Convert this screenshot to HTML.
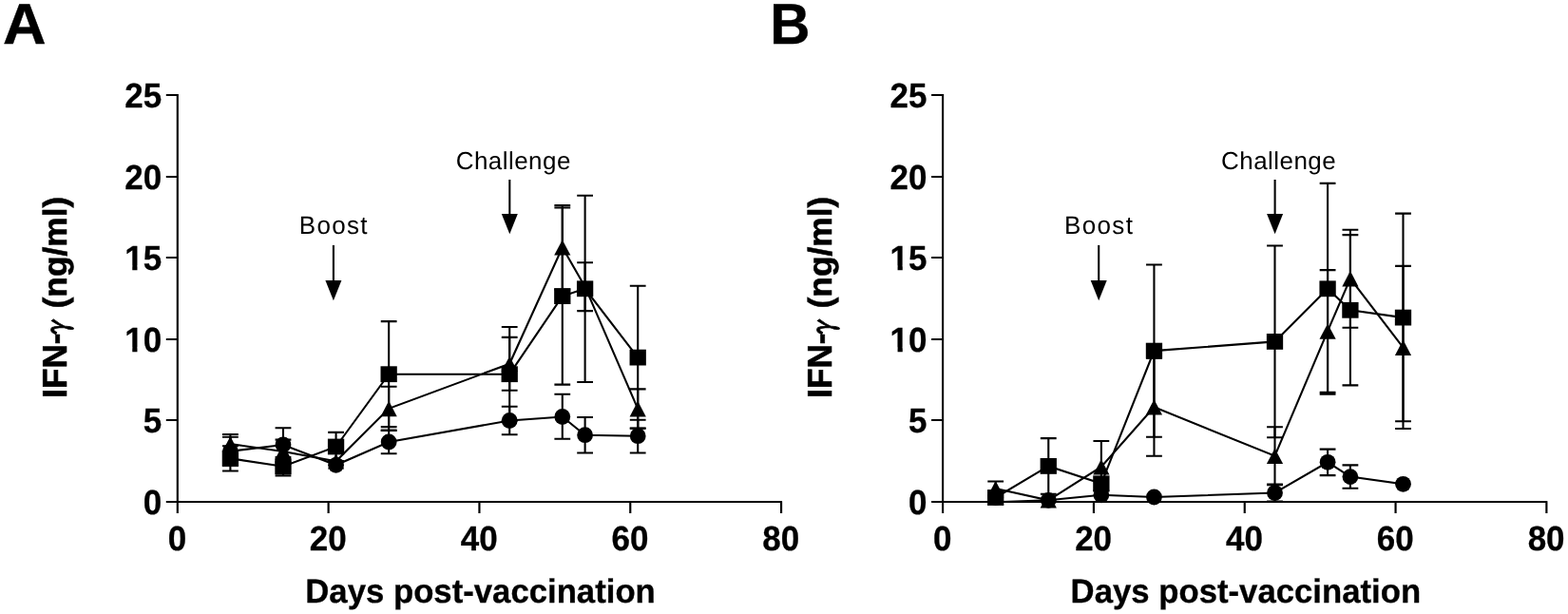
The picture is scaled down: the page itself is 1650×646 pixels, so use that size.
<!DOCTYPE html>
<html lang="en">
<head>
<meta charset="utf-8">
<title>IFN-γ responses post-vaccination</title>
<style>
html,body{margin:0;padding:0;background:#fff;}
body{width:1650px;height:646px;overflow:hidden;}
svg{display:block;}
text{font-family:"Liberation Sans",sans-serif;fill:#000;text-rendering:geometricPrecision;}
.pl{font-size:58.5px;font-weight:bold;stroke:#000;stroke-width:0.4px;}
.tk{font-size:35.5px;font-weight:bold;stroke:#000;stroke-width:0.3px;}
.xt{font-size:34.6px;font-weight:bold;stroke:#000;stroke-width:0.3px;}
.yt{font-size:34.5px;font-weight:bold;stroke:#000;stroke-width:0.6px;}
.gm{font-family:"IPAGothic","Liberation Serif",serif;font-weight:normal;font-size:34px;stroke:#000;stroke-width:0.9px;}
.an{font-size:26px;}
.ln{fill:none;stroke:#000;stroke-width:2.1;}
.ax{fill:none;stroke:#000;stroke-width:2.15;}
</style>
</head>
<body>
<svg width="1650" height="646" viewBox="0 0 1650 646">
<rect x="0" y="0" width="1650" height="646" fill="#fff"/>
<g>
<text class="pl" transform="translate(3.1 46.45) scale(1.078 1.035)">A</text>
<path class="ax" d="M186.8 99V540M174.8 528H823.08M174.8 442H186.8M174.8 357H186.8M174.8 271H186.8M174.8 186H186.8M174.8 100H186.8M345.62 528V540M504.44 528V540M663.26 528V540M822.08 528V540"/>
<text class="tk" transform="translate(170.2 540.9) scale(0.985 1.026)" text-anchor="end">0</text>
<text class="tk" transform="translate(170.2 454.9) scale(0.985 1.026)" text-anchor="end">5</text>
<text class="tk" transform="translate(170.2 369.9) scale(0.985 1.026)" text-anchor="end">10</text>
<rect fill="#fff" x="132.71" y="365.58" width="6.56" height="5.72"/>
<rect fill="#fff" x="144.46" y="365.58" width="6.11" height="5.72"/>
<text class="tk" transform="translate(170.2 283.9) scale(0.985 1.026)" text-anchor="end">15</text>
<rect fill="#fff" x="132.71" y="279.58" width="6.56" height="5.72"/>
<rect fill="#fff" x="144.46" y="279.58" width="6.11" height="5.72"/>
<text class="tk" transform="translate(170.2 198.9) scale(0.985 1.026)" text-anchor="end">20</text>
<text class="tk" transform="translate(170.2 112.9) scale(0.985 1.026)" text-anchor="end">25</text>
<text class="tk" transform="translate(186.5 578.8) scale(0.985 1.026)" text-anchor="middle">0</text>
<text class="tk" transform="translate(345.32 578.8) scale(0.985 1.026)" text-anchor="middle">20</text>
<text class="tk" transform="translate(504.14 578.8) scale(0.985 1.026)" text-anchor="middle">40</text>
<text class="tk" transform="translate(662.96 578.8) scale(0.985 1.026)" text-anchor="middle">60</text>
<text class="tk" transform="translate(821.78 578.8) scale(0.985 1.026)" text-anchor="middle">80</text>
<text class="yt" transform="translate(69.9 418.8) rotate(-90) scale(1.018 1.045)">IFN-</text>
<text class="gm" transform="translate(74.4 356.9) rotate(-90) scale(0.78 1.1)">γ</text>
<text class="yt" transform="translate(69.9 324.4) rotate(-90) scale(1.024 1.01)">(ng/ml)</text>
<text class="xt" transform="translate(321.3 634) scale(1.004 1.02)">Days post-vaccination</text>
<text class="an" transform="translate(314.7 245.8) scale(1 1.015)" style="letter-spacing:1.35px">Boost</text>
<path class="ln" d="M350.9 257.9V295.9"/><path d="M342.4 294.9L359.4 294.9L350.9 316.2Z"/>
<text class="an" transform="translate(479.7 178.1)" style="letter-spacing:0.45px">Challenge</text>
<path class="ln" d="M536.3 189V226"/><path d="M527.8 225L544.8 225L536.3 246.2Z"/>
<polyline class="ln" points="242.39,474.8 297.97,468 353.56,489.3 409.15,465 536.2,442.5 591.79,438.5 615.61,457.7 671.2,458.7"/>
<path class="ln" d="M242.39 474.8V459.8M233.99 459.8H250.79M242.39 474.8V489.8M233.99 489.8H250.79M297.97 468V450.2M289.57 450.2H306.37M297.97 468V485.8M289.57 485.8H306.37M409.15 465V452.9M400.75 452.9H417.55M409.15 465V477.2M400.75 477.2H417.55M536.2 442.5V427.8M527.8 427.8H544.6M536.2 442.5V457.3M527.8 457.3H544.6M591.79 438.5V414.7M583.39 414.7H600.19M591.79 438.5V461.8M583.39 461.8H600.19M615.61 457.7V439M607.21 439H624.01M615.61 457.7V476.5M607.21 476.5H624.01M671.2 458.7V441.8M662.8 441.8H679.6M671.2 458.7V476.5M662.8 476.5H679.6"/>
<circle cx="242.39" cy="474.8" r="8.4"/>
<circle cx="297.97" cy="468" r="8.4"/>
<circle cx="353.56" cy="489.3" r="8.4"/>
<circle cx="409.15" cy="465" r="8.4"/>
<circle cx="536.2" cy="442.5" r="8.4"/>
<circle cx="591.79" cy="438.5" r="8.4"/>
<circle cx="615.61" cy="457.7" r="8.4"/>
<circle cx="671.2" cy="458.7" r="8.4"/>
<polyline class="ln" points="242.39,482.4 297.97,490.7 353.56,470 409.15,393.7 536.2,393.7 591.79,311.6 615.61,303.8 671.2,376.1"/>
<path class="ln" d="M242.39 482.4V469.3M233.99 469.3H250.79M242.39 482.4V495.5M233.99 495.5H250.79M297.97 490.7V481M289.57 481H306.37M297.97 490.7V500.4M289.57 500.4H306.37M353.56 470V454.9M345.16 454.9H361.96M353.56 470V485.1M345.16 485.1H361.96M409.15 393.7V338.1M400.75 338.1H417.55M409.15 393.7V449.1M400.75 449.1H417.55M536.2 393.7V344M527.8 344H544.6M536.2 393.7V442.6M527.8 442.6H544.6M591.79 311.6V218.5M583.39 218.5H600.19M591.79 311.6V404.6M583.39 404.6H600.19M615.61 303.8V205.7M607.21 205.7H624.01M615.61 303.8V402M607.21 402H624.01M671.2 376.1V300.8M662.8 300.8H679.6M671.2 376.1V450.5M662.8 450.5H679.6"/>
<rect x="233.74" y="474" width="17.3" height="16.8"/>
<rect x="289.32" y="482.3" width="17.3" height="16.8"/>
<rect x="344.91" y="461.6" width="17.3" height="16.8"/>
<rect x="400.5" y="385.3" width="17.3" height="16.8"/>
<rect x="527.55" y="385.3" width="17.3" height="16.8"/>
<rect x="583.14" y="303.2" width="17.3" height="16.8"/>
<rect x="606.96" y="295.4" width="17.3" height="16.8"/>
<rect x="662.55" y="367.7" width="17.3" height="16.8"/>
<polyline class="ln" points="242.39,467.1 297.97,475 353.56,485.3 409.15,429.85 536.2,382.8 591.79,260.3 615.61,301.65 671.2,430.1"/>
<path class="ln" d="M242.39 467.1V457M233.99 457H250.79M242.39 467.1V477.2M233.99 477.2H250.79M297.97 475V462.6M289.57 462.6H306.37M297.97 475V487.4M289.57 487.4H306.37M409.15 429.85V406.8M400.75 406.8H417.55M409.15 429.85V452.9M400.75 452.9H417.55M536.2 382.8V354.9M527.8 354.9H544.6M536.2 382.8V410.7M527.8 410.7H544.6M591.79 260.3V216.1M583.39 216.1H600.19M591.79 260.3V304.5M583.39 304.5H600.19M615.61 301.65V276.2M607.21 276.2H624.01M615.61 301.65V327.1M607.21 327.1H624.01M671.2 430.1V409.4M662.8 409.4H679.6M671.2 430.1V450.8M662.8 450.8H679.6"/>
<path d="M242.39 459.1L250.99 475.4L233.79 475.4Z"/>
<path d="M297.97 467L306.57 483.3L289.37 483.3Z"/>
<path d="M353.56 477.3L362.16 493.6L344.96 493.6Z"/>
<path d="M409.15 421.85L417.75 438.15L400.55 438.15Z"/>
<path d="M536.2 374.8L544.8 391.1L527.6 391.1Z"/>
<path d="M591.79 252.3L600.39 268.6L583.19 268.6Z"/>
<path d="M615.61 293.65L624.21 309.95L607.01 309.95Z"/>
<path d="M671.2 422.1L679.8 438.4L662.6 438.4Z"/>
</g>
<g>
<text class="pl" transform="translate(810.2 46.45) scale(1 1.035)">B</text>
<path class="ax" d="M992.1 99V540M980.1 528H1628.38M980.1 442H992.1M980.1 357H992.1M980.1 271H992.1M980.1 186H992.1M980.1 100H992.1M1150.92 528V540M1309.74 528V540M1468.56 528V540M1627.38 528V540"/>
<text class="tk" transform="translate(975.5 540.9) scale(0.985 1.026)" text-anchor="end">0</text>
<text class="tk" transform="translate(975.5 454.9) scale(0.985 1.026)" text-anchor="end">5</text>
<text class="tk" transform="translate(975.5 369.9) scale(0.985 1.026)" text-anchor="end">10</text>
<rect fill="#fff" x="938.01" y="365.58" width="6.56" height="5.72"/>
<rect fill="#fff" x="949.76" y="365.58" width="6.11" height="5.72"/>
<text class="tk" transform="translate(975.5 283.9) scale(0.985 1.026)" text-anchor="end">15</text>
<rect fill="#fff" x="938.01" y="279.58" width="6.56" height="5.72"/>
<rect fill="#fff" x="949.76" y="279.58" width="6.11" height="5.72"/>
<text class="tk" transform="translate(975.5 198.9) scale(0.985 1.026)" text-anchor="end">20</text>
<text class="tk" transform="translate(975.5 112.9) scale(0.985 1.026)" text-anchor="end">25</text>
<text class="tk" transform="translate(991.8 578.8) scale(0.985 1.026)" text-anchor="middle">0</text>
<text class="tk" transform="translate(1150.62 578.8) scale(0.985 1.026)" text-anchor="middle">20</text>
<text class="tk" transform="translate(1309.44 578.8) scale(0.985 1.026)" text-anchor="middle">40</text>
<text class="tk" transform="translate(1468.26 578.8) scale(0.985 1.026)" text-anchor="middle">60</text>
<text class="tk" transform="translate(1627.08 578.8) scale(0.985 1.026)" text-anchor="middle">80</text>
<text class="yt" transform="translate(875.2 418.8) rotate(-90) scale(1.018 1.045)">IFN-</text>
<text class="gm" transform="translate(879.7 356.9) rotate(-90) scale(0.78 1.1)">γ</text>
<text class="yt" transform="translate(875.2 324.4) rotate(-90) scale(1.024 1.01)">(ng/ml)</text>
<text class="xt" transform="translate(1126.6 634) scale(1.004 1.02)">Days post-vaccination</text>
<text class="an" transform="translate(1120 245.8) scale(1 1.015)" style="letter-spacing:1.35px">Boost</text>
<path class="ln" d="M1156.2 257.9V295.9"/><path d="M1147.7 294.9L1164.7 294.9L1156.2 316.2Z"/>
<text class="an" transform="translate(1285 178.1)" style="letter-spacing:0.45px">Challenge</text>
<path class="ln" d="M1341.6 189V226"/><path d="M1333.1 225L1350.1 225L1341.6 246.2Z"/>
<polyline class="ln" points="1047.69,528.2 1103.27,526.3 1158.86,520.8 1214.45,523 1341.5,518.5 1397.09,486.3 1420.91,501.6 1476.5,509.3"/>
<path class="ln" d="M1341.5 518.5V509.5M1333.1 509.5H1349.9M1341.5 518.5V527.5M1333.1 527.5H1349.9M1397.09 486.3V472.6M1388.69 472.6H1405.49M1397.09 486.3V500.1M1388.69 500.1H1405.49M1420.91 501.6V489.4M1412.51 489.4H1429.31M1420.91 501.6V513.7M1412.51 513.7H1429.31"/>
<circle cx="1047.69" cy="523.5" r="8.4"/>
<circle cx="1103.27" cy="526.3" r="8.4"/>
<circle cx="1158.86" cy="520.8" r="8.4"/>
<circle cx="1214.45" cy="523" r="8.4"/>
<circle cx="1341.5" cy="518.5" r="8.4"/>
<circle cx="1397.09" cy="486.3" r="8.4"/>
<circle cx="1420.91" cy="501.6" r="8.4"/>
<circle cx="1476.5" cy="509.3" r="8.4"/>
<polyline class="ln" points="1047.69,523.5 1103.27,490.4 1158.86,508.8 1214.45,369.1 1341.5,359.4 1397.09,303.8 1420.91,326.3 1476.5,334.1"/>
<path class="ln" d="M1103.27 490.4V461.1M1094.87 461.1H1111.67M1103.27 490.4V519.7M1094.87 519.7H1111.67M1214.45 369.1V278.5M1206.05 278.5H1222.85M1214.45 369.1V459.7M1206.05 459.7H1222.85M1341.5 359.4V258.5M1333.1 258.5H1349.9M1341.5 359.4V460.3M1333.1 460.3H1349.9M1397.09 303.8V192.9M1388.69 192.9H1405.49M1397.09 303.8V414.7M1388.69 414.7H1405.49M1420.91 326.3V247.1M1412.51 247.1H1429.31M1420.91 326.3V405.4M1412.51 405.4H1429.31M1476.5 334.1V224.6M1468.1 224.6H1484.9M1476.5 334.1V443.3M1468.1 443.3H1484.9"/>
<rect x="1039.04" y="515.1" width="17.3" height="16.8"/>
<rect x="1094.62" y="482" width="17.3" height="16.8"/>
<rect x="1150.21" y="500.4" width="17.3" height="16.8"/>
<rect x="1205.8" y="360.7" width="17.3" height="16.8"/>
<rect x="1332.85" y="351" width="17.3" height="16.8"/>
<rect x="1388.44" y="295.4" width="17.3" height="16.8"/>
<rect x="1412.26" y="317.9" width="17.3" height="16.8"/>
<rect x="1467.85" y="325.7" width="17.3" height="16.8"/>
<polyline class="ln" points="1047.69,513.9 1103.27,526.3 1158.86,491.2 1214.45,428.3 1341.5,479.7 1397.09,348.4 1420.91,293.1 1476.5,365.6"/>
<path class="ln" d="M1047.69 513.9V506.5M1039.29 506.5H1056.09M1047.69 513.9V521.3M1039.29 521.3H1056.09M1158.86 491.2V464M1150.46 464H1167.26M1158.86 491.2V516.4M1150.46 516.4H1167.26M1214.45 428.3V376.8M1206.05 376.8H1222.85M1214.45 428.3V479.8M1206.05 479.8H1222.85M1341.5 479.7V449.3M1333.1 449.3H1349.9M1341.5 479.7V510.1M1333.1 510.1H1349.9M1397.09 348.4V284.1M1388.69 284.1H1405.49M1397.09 348.4V412.9M1388.69 412.9H1405.49M1420.91 293.1V241.8M1412.51 241.8H1429.31M1420.91 293.1V344.8M1412.51 344.8H1429.31M1476.5 365.6V279.9M1468.1 279.9H1484.9M1476.5 365.6V451M1468.1 451H1484.9"/>
<path d="M1047.69 505.9L1056.29 522.2L1039.09 522.2Z"/>
<path d="M1103.27 518.3L1111.87 534.6L1094.67 534.6Z"/>
<path d="M1158.86 483.2L1167.46 499.5L1150.26 499.5Z"/>
<path d="M1214.45 420.3L1223.05 436.6L1205.85 436.6Z"/>
<path d="M1341.5 471.7L1350.1 488L1332.9 488Z"/>
<path d="M1397.09 340.4L1405.69 356.7L1388.49 356.7Z"/>
<path d="M1420.91 285.1L1429.51 301.4L1412.31 301.4Z"/>
<path d="M1476.5 357.6L1485.1 373.9L1467.9 373.9Z"/>
</g>
</svg>
</body>
</html>
